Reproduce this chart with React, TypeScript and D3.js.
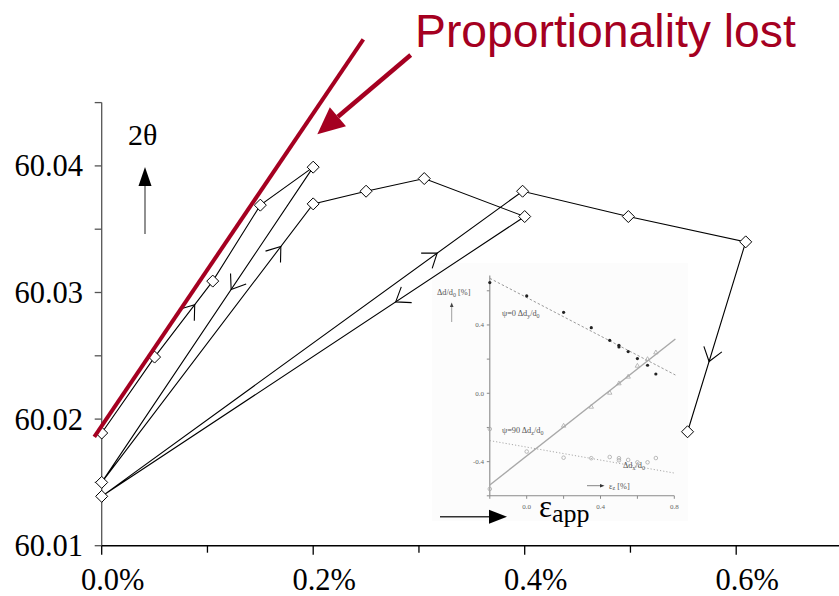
import React from "react";
import * as d3 from "d3";

// ---- main chart data (strain in %, 2θ in degrees), in measurement order ----
const strain = [0, 0.05, 0.105, 0.15, 0.2, 0, 0.2, 0.25, 0.305, 0.4, 0, 0.398, 0.498, 0.609, 0.554];
const twoTheta = [60.0189, 60.0249, 60.0309, 60.0369, 60.0399, 60.015, 60.037, 60.038, 60.039, 60.036, 60.0139, 60.038, 60.036, 60.034, 60.019];
// direction chevrons: segment start index and fraction along it
const arrowSeg = [1, 4, 5, 9, 10, 13];
const arrowFrac = [0.69, 0.388, 0.847, 0.305, 0.797, 0.63];

const xTicks = [0, 0.1, 0.2, 0.3, 0.4, 0.5, 0.6];
const xTickLabels = ["0.0%", "", "0.2%", "", "0.4%", "", "0.6%"];
const yTicks = [60.01, 60.015, 60.02, 60.025, 60.03, 60.035, 60.04, 60.045];
const yTickLabels = ["60.01", "", "60.02", "", "60.03", "", "60.04", ""];

// red annotation (data coords)
const propLineX = [-0.007, 0.2474];
const propLineY = [60.0186, 60.05];
const redArrowX = [0.2922, 0.2039];
const redArrowY = [60.04876, 60.0425];

// ---- inset data ----
const insetDyX = [-0.2, 0.0, 0.2, 0.35, 0.45, 0.5, 0.5, 0.55, 0.6, 0.655, 0.7];
const insetDyV = [0.648, 0.57, 0.474, 0.384, 0.31, 0.281, 0.271, 0.244, 0.203, 0.164, 0.113];
const insetDzX = [0.2, 0.35, 0.45, 0.5, 0.55, 0.6, 0.655, 0.7];
const insetDzV = [-0.189, -0.078, 0.004, 0.059, 0.098, 0.162, 0.201, 0.24];
const insetDxX = [-0.2, -0.2, 0.0, 0.2, 0.35, 0.45, 0.5, 0.5, 0.55, 0.6, 0.655, 0.7];
const insetDxV = [-0.56, -0.209, -0.341, -0.377, -0.38, -0.373, -0.38, -0.392, -0.39, -0.404, -0.404, -0.379];
const fitDyY = [0.673, 0.107];
const fitDzY = [-0.537, 0.318];
const fitDxY = [-0.277, -0.468];
const fitX = [-0.2, 0.806];
const insetYTicks = [-0.6, -0.4, -0.2, 0, 0.2, 0.4, 0.6];
const insetYLabels: Record<string, string> = { "-0.4": "-0.4", "0": "0.0", "0.4": "0.4" };
const insetXTicks = [-0.2, 0, 0.2, 0.4, 0.6, 0.8];
const insetXLabels: Record<string, string> = { "0": "0.0", "0.4": "0.4", "0.8": "0.8" };

const RED = "#A50021";
const SERIF = '"Liberation Serif", "Times New Roman", Times, "DejaVu Serif", serif';
const SANS = '"Liberation Sans", Arial, Helvetica, sans-serif';
const serif = { fontFamily: SERIF };
const sans = { fontFamily: SANS };

export default function App() {
  const W = 839, H = 596;
  const x = d3.scaleLinear().domain([0, 0.7]).range([101.7, 101.7 + 0.7 * 1057.5]);
  const y = d3.scaleLinear().domain([60.01, 60.045]).range([545.7, 545.7 - 0.035 * 12660]);

  const pts = strain.map((s, i) => [x(s), y(twoTheta[i])] as [number, number]);
  const line = d3.line()(pts) || "";

  const chevrons = arrowSeg.map((si, k) => {
    const a = pts[si], b = pts[si + 1];
    const t = arrowFrac[k];
    const px = a[0] + t * (b[0] - a[0]);
    const py = a[1] + t * (b[1] - a[1]);
    const ang = Math.atan2(a[1] - b[1], a[0] - b[0]);
    const L = 16, sp = (36 * Math.PI) / 180;
    const p1 = [px + L * Math.cos(ang + sp), py + L * Math.sin(ang + sp)];
    const p2 = [px + L * Math.cos(ang - sp), py + L * Math.sin(ang - sp)];
    return `M${p1[0]},${p1[1]}L${px},${py}L${p2[0]},${p2[1]}`;
  });

  // red arrow
  const ra0 = [x(redArrowX[0]), y(redArrowY[0])];
  const ra1 = [x(redArrowX[1]), y(redArrowY[1])];
  const rAng = Math.atan2(ra1[1] - ra0[1], ra1[0] - ra0[0]);
  const hl = 27, hw = 12.5;
  const bx = ra1[0] - hl * Math.cos(rAng), by = ra1[1] - hl * Math.sin(rAng);
  const head = `M${ra1[0]},${ra1[1]}L${bx + hw * Math.sin(rAng)},${by - hw * Math.cos(rAng)}L${bx - hw * Math.sin(rAng)},${by + hw * Math.cos(rAng)}Z`;

  // inset scales
  const xi = d3.scaleLinear().domain([-0.2, 0.8]).range([489.8, 674.3]);
  const yi = d3.scaleLinear().domain([-0.6, 0.7]).range([495.8, 273.7]);
  const IG = "#8a8a8a";
  const fs = 8.3, fss = 6;

  const d = 6; // diamond half-diagonal
  return (
    <svg width={W} height={H} style={{ position: "fixed", left: 0, top: 0, background: "#fff" }}>
      <rect x={0} y={0} width={W} height={H} fill="#fff" />

      {/* ---------- inset ---------- */}
      <g>
        <rect x={432} y={263} width={256} height={258} fill="#fcfcfc" />
        <line x1={xi(-0.2)} x2={xi(-0.2)} y1={yi(-0.6)} y2={yi(0.69)} stroke={IG} strokeWidth={1.1} />
        <line x1={xi(-0.2)} x2={xi(0.8)} y1={yi(-0.6)} y2={yi(-0.6)} stroke={IG} strokeWidth={1.1} />
        {insetYTicks.map((t) => (
          <g key={"iy" + t}>
            <line x1={xi(-0.2) - 3} x2={xi(-0.2)} y1={yi(t)} y2={yi(t)} stroke={IG} />
            {insetYLabels[String(t)] && (
              <text x={484} y={yi(t) + 2.5} fontSize={7} fill="#666" textAnchor="end" style={serif}>
                {insetYLabels[String(t)]}
              </text>
            )}
          </g>
        ))}
        {insetXTicks.map((t) => (
          <g key={"ix" + t}>
            <line x1={xi(t)} x2={xi(t)} y1={yi(-0.6)} y2={yi(-0.6) + 3} stroke={IG} />
            {insetXLabels[String(t)] && (
              <text x={xi(t)} y={508.5} fontSize={7} fill="#666" textAnchor="middle" style={serif}>
                {insetXLabels[String(t)]}
              </text>
            )}
          </g>
        ))}
        <line x1={xi(fitX[0])} x2={xi(fitX[1])} y1={yi(fitDyY[0])} y2={yi(fitDyY[1])} stroke="#999" strokeWidth={1} strokeDasharray="2.5,2" />
        <line x1={xi(fitX[0])} x2={xi(fitX[1])} y1={yi(fitDzY[0])} y2={yi(fitDzY[1])} stroke="#a8a8a8" strokeWidth={1.4} />
        <line x1={xi(fitX[0])} x2={xi(fitX[1])} y1={yi(fitDxY[0])} y2={yi(fitDxY[1])} stroke="#aaa" strokeWidth={1} strokeDasharray="1.2,2" />
        {insetDyX.map((v, i) => (
          <circle key={"dy" + i} cx={xi(v)} cy={yi(insetDyV[i])} r={1.6} fill="#222" />
        ))}
        {insetDzX.map((v, i) => {
          const cx = xi(v), cy = yi(insetDzV[i]);
          return <path key={"dz" + i} d={`M${cx},${cy - 2.3}L${cx + 2.2},${cy + 1.6}L${cx - 2.2},${cy + 1.6}Z`} fill="none" stroke="#aaa" strokeWidth={0.8} />;
        })}
        {insetDxX.map((v, i) => (
          <circle key={"dx" + i} cx={xi(v)} cy={yi(insetDxV[i])} r={1.8} fill="none" stroke="#aaa" strokeWidth={0.8} />
        ))}
        <text x={437} y={295} fontSize={fs} fill="#555" style={serif}>
          Δd/d<tspan fontSize={fss} dy={1.8}>0</tspan><tspan dy={-1.8}> [%]</tspan>
        </text>
        <line x1={451.7} x2={451.7} y1={322} y2={306} stroke="#888" strokeWidth={0.8} />
        <path d="M449.9,307 L451.7,302.5 L453.5,307 Z" fill="#444" />
        <text x={502} y={316} fontSize={fs} fill="#555" style={serif}>
          ψ=0  Δd<tspan fontSize={fss} dy={1.8}>y</tspan><tspan dy={-1.8}>/d</tspan><tspan fontSize={fss} dy={1.8}>0</tspan>
        </text>
        <text x={502} y={433} fontSize={fs} fill="#555" style={serif}>
          ψ=90  Δd<tspan fontSize={fss} dy={1.8}>z</tspan><tspan dy={-1.8}>/d</tspan><tspan fontSize={fss} dy={1.8}>0</tspan>
        </text>
        <text x={623} y={468} fontSize={fs} fill="#555" style={serif}>
          Δd<tspan fontSize={fss} dy={1.8}>x</tspan><tspan dy={-1.8}>/d</tspan><tspan fontSize={fss} dy={1.8}>0</tspan>
        </text>
        <line x1={587} x2={601} y1={485.7} y2={485.7} stroke="#666" strokeWidth={0.8} />
        <path d="M600,484 L604.5,485.7 L600,487.4 Z" fill="#333" />
        <text x={609} y={488.5} fontSize={fs} fill="#555" style={serif}>
          ε<tspan fontSize={fss} dy={1.8}>z</tspan><tspan dy={-1.8}> [%]</tspan>
        </text>
      </g>

      {/* ---------- axes ---------- */}
      <line x1={x(0)} x2={x(0)} y1={y(60.01)} y2={y(60.045)} stroke="#555" strokeWidth={1.3} />
      {yTicks.map((t, i) => (
        <g key={"yt" + i}>
          <line x1={x(0) - 7} x2={x(0)} y1={y(t)} y2={y(t)} stroke="#555" strokeWidth={1.3} />
          {yTickLabels[i] && (
            <text x={83} y={y(t) + 10.5} fontSize={30.5} textAnchor="end" style={serif} fill="#000">
              {yTickLabels[i]}
            </text>
          )}
        </g>
      ))}
      <line x1={x(0)} x2={W} y1={y(60.01)} y2={y(60.01)} stroke="#000" strokeWidth={1.4} />
      {xTicks.map((t, i) => (
        <g key={"xt" + i}>
          <line x1={x(t)} x2={x(t)} y1={y(60.01)} y2={y(60.01) + (xTickLabels[i] ? 9 : 7)} stroke="#000" strokeWidth={1.3} />
          {xTickLabels[i] && (
            <text x={x(t) + 11} y={590} fontSize={30.5} textAnchor="middle" style={serif} fill="#000">
              {xTickLabels[i]}
            </text>
          )}
        </g>
      ))}

      {/* axis captions */}
      <text x={128} y={145} fontSize={30} style={serif} fill="#000">2θ</text>
      <line x1={145} x2={145} y1={234} y2={183} stroke="#555" strokeWidth={1.3} />
      <path d="M138.5,186 L145,167 L151.5,186 Z" fill="#000" />

      <line x1={440} x2={491} y1={516.7} y2={516.7} stroke="#333" strokeWidth={1.5} />
      <path d="M489,509.7 L507,516.7 L489,523.7 Z" fill="#000" />
      <text x={539} y={517} fontSize={31} style={serif} fill="#000">
        ε<tspan fontSize={26} dy={5}>app</tspan>
      </text>

      {/* ---------- data path ---------- */}
      <path d={line} fill="none" stroke="#000" strokeWidth={1.1} />
      {chevrons.map((c, i) => (
        <path key={"ch" + i} d={c} fill="none" stroke="#000" strokeWidth={1.1} />
      ))}
      {pts.map((p, i) => (
        <path
          key={"pt" + i}
          d={`M${p[0]},${p[1] - d}L${p[0] + d},${p[1]}L${p[0]},${p[1] + d}L${p[0] - d},${p[1]}Z`}
          fill="#fff"
          stroke="#000"
          strokeWidth={1}
        />
      ))}

      {/* ---------- red annotation ---------- */}
      <line
        x1={x(propLineX[0])}
        y1={y(propLineY[0])}
        x2={x(propLineX[1])}
        y2={y(propLineY[1])}
        stroke={RED}
        strokeWidth={4}
      />
      <line x1={ra0[0]} y1={ra0[1]} x2={bx} y2={by} stroke={RED} strokeWidth={4.5} />
      <path d={head} fill={RED} />
      <text x={415} y={46.7} fontSize={46.3} style={sans} fill={RED}>
        Proportionality lost
      </text>
    </svg>
  );
}
